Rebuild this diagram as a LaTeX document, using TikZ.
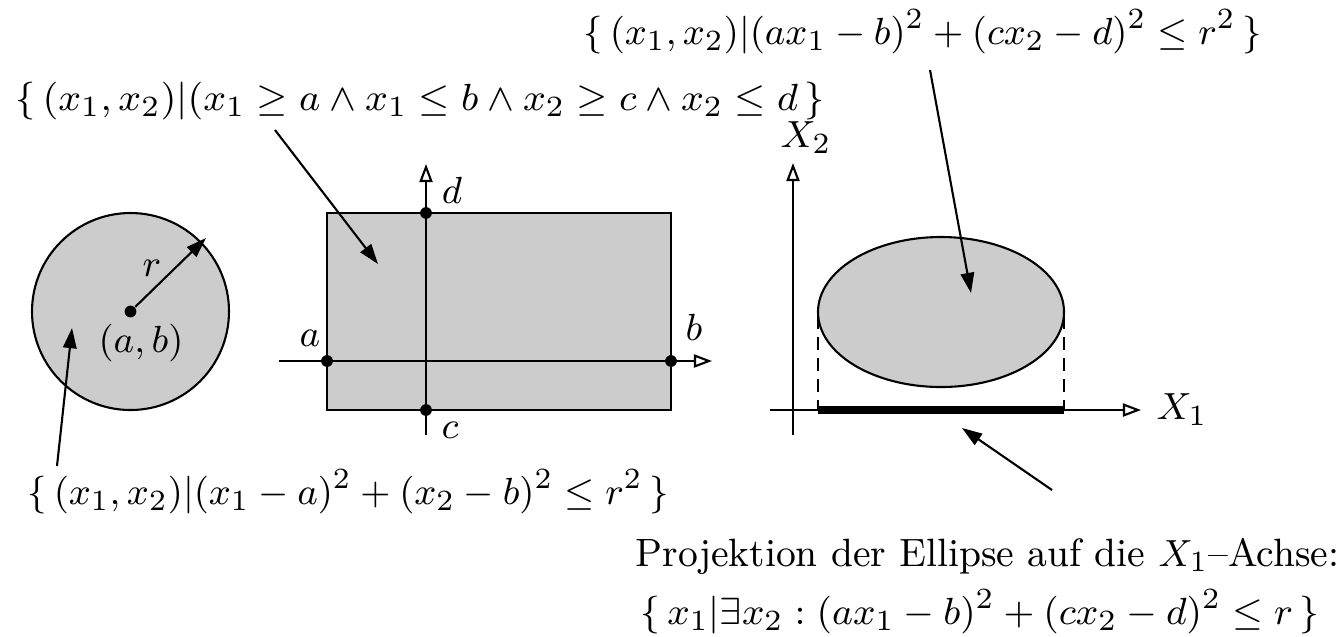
\documentclass[tikz,border=0pt]{standalone}
\usetikzlibrary{arrows.meta}
\begin{document}
\begin{tikzpicture}[x=0.238pt,y=-0.238pt,
  ln/.style={line width=0.5pt},
  ptr/.style={ln,-{Triangle[length=4.8pt,width=3.2pt]}},
  axis/.style={ln,-{Triangle[open,length=4.3pt,width=3.1pt]}},
  dotm/.style={circle,fill=black,inner sep=0pt,minimum size=2.8pt},
  lbl/.style={inner sep=0pt,font=\fontsize{9.4pt}{11pt}\selectfont},
  region/.style={ln,fill=black!20}]
\useasboundingbox (0,0) rectangle (1338,636);
% circle
\draw[region] (130.5,311.5) circle [radius=98.5*0.238pt];
\node[dotm] (cc) at (130.5,311.5) {};
\coordinate (rr) at (206,238);
\draw[ptr] (cc) -- (rr);
\node[lbl] (rl) at (152,268) {$r$};
\node[lbl] (ab) at (141,343) {$(a,b)$};
% rectangle
\draw[region] (327,213) rectangle (671,410);
\coordinate (hx0) at (279,361);
\coordinate (hx1) at (712,361);
\coordinate (vy0) at (426,435);
\coordinate (vy1) at (426,164);
\draw[axis] (hx0) -- (hx1);
\draw[axis] (vy0) -- (vy1);
\node[dotm] (pd) at (426,213) {};
\node[dotm] (pc) at (426,410) {};
\node[dotm] (pa) at (327,361) {};
\node[dotm] (pb) at (671,361) {};
\node[lbl] (la) at (310,338) {$a$};
\node[lbl] (ld) at (452,190) {$d$};
\node[lbl] (lc) at (450,430) {$c$};
\node[lbl] (lb) at (694,327) {$b$};
% ellipse plot
\draw[region] (941,312) ellipse [x radius=123*0.238pt, y radius=75*0.238pt];
\coordinate (ex0) at (770,410);
\coordinate (ex1) at (1141,410);
\coordinate (ey0) at (793,435);
\coordinate (ey1) at (793,163);
\draw[axis] (ex0) -- (ex1);
\draw[axis] (ey0) -- (ey1);
\coordinate (dl0) at (818,316);
\coordinate (dl1) at (818,410);
\coordinate (dr0) at (1064,316);
\coordinate (dr1) at (1064,410);
\draw[ln,dash pattern=on 3pt off 2pt] (dl0) -- (dl1);
\draw[ln,dash pattern=on 3pt off 2pt] (dr0) -- (dr1);
\draw[line width=1.7pt] (dl1) -- (dr1);
\node[lbl] (x2) at (806,138) {$X_2$};
\node[lbl] (x1) at (1182,410) {$X_1$};
% texts
\node[lbl,anchor=west] (t1) at (583,32) {$\{\,(x_1,x_2)|(ax_1-b)^2+(cx_2-d)^2\leq r^2\,\}$};
\node[lbl,anchor=west] (t2) at (15,101) {\scalebox{1.035}[1]{$\{\,(x_1,x_2)|(x_1\geq a\wedge x_1\leq b\wedge x_2\geq c\wedge x_2\leq d\,\}$}};
\node[lbl,anchor=west] (t3) at (27,492) {$\{\,(x_1,x_2)|(x_1-a)^2+(x_2-b)^2\leq r^2\,\}$};
\node[lbl,anchor=base west] (t4) at (635,566) {\scalebox{0.975}[1]{Projektion der Ellipse auf die $X_1$--Achse:}};
\node[lbl,anchor=west] (t5) at (640,612) {\scalebox{1.02}[1]{$\{\,x_1|\exists x_2:(ax_1-b)^2+(cx_2-d)^2\leq r\,\}$}};
% pointers
\coordinate (a1s) at (930,70);
\coordinate (a1e) at (971,293);
\draw[ptr] (a1s) -- (a1e);
\coordinate (a2s) at (275,130);
\coordinate (a2e) at (378,264);
\draw[ptr] (a2s) -- (a2e);
\coordinate (a3s) at (57,466);
\coordinate (a3e) at (72,328);
\draw[ptr] (a3s) -- (a3e);
\coordinate (a4s) at (1052,490);
\coordinate (a4e) at (962,428);
\draw[ptr] (a4s) -- (a4e);
\end{tikzpicture}
\end{document}
